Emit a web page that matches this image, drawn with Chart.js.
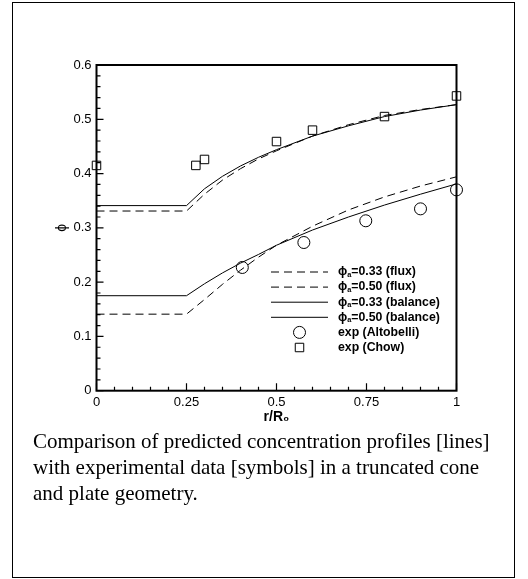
<!DOCTYPE html>
<html>
<head>
<meta charset="utf-8">
<script src="https://cdn.jsdelivr.net/npm/chart.js@4.4.1/dist/chart.umd.min.js"></script>
<style>
  html, body { margin: 0; padding: 0; background: #fff; }
  body { width: 528px; height: 579px; position: relative; overflow: hidden; }
  #frame { position: absolute; left: 12px; top: 2px; width: 503px; height: 576px;
           border: 1.5px solid #000; box-sizing: border-box; }
  #wrap { position: absolute; left: 0; top: 0; width: 528px; height: 430px; }
  #caption { position: absolute; left: 33px; top: 427.9px; color: #000; white-space: nowrap;
             font-family: "Liberation Serif", "Times New Roman", serif; font-size: 21px; line-height: 26px; }
</style>
</head>
<body>
<div id="frame"></div>
<div id="wrap"><canvas id="c"></canvas></div>
<div id="caption">Comparison of predicted concentration profiles [lines]<br>with experimental data [symbols] in a truncated cone<br>and plate geometry.</div>
<script>
// radial position r/R0 of the model profiles
const rModel   = [0, 0.25, 0.3, 0.35, 0.4, 0.45, 0.5, 0.6, 0.7, 0.8, 0.9, 1.0];
// predicted concentration, flux model
const flux033  = [0.141, 0.141, 0.168, 0.196, 0.222, 0.246, 0.268, 0.303, 0.333, 0.357, 0.377, 0.394];
const flux050  = [0.331, 0.331, 0.362, 0.388, 0.409, 0.427, 0.442, 0.469, 0.490, 0.507, 0.518, 0.527];
// predicted concentration, balance model
const bal033   = [0.175, 0.175, 0.197, 0.217, 0.235, 0.251, 0.268, 0.296, 0.320, 0.342, 0.362, 0.381];
const bal050   = [0.341, 0.341, 0.372, 0.395, 0.414, 0.430, 0.444, 0.469, 0.488, 0.505, 0.517, 0.527];
// experiments
const rAltobelli   = [0.405, 0.576, 0.748, 0.90, 1.0];
const phiAltobelli = [0.227, 0.273, 0.313, 0.335, 0.370];
const rChow   = [0, 0.276, 0.30, 0.50, 0.60, 0.80, 1.0];
const phiChow = [0.415, 0.415, 0.426, 0.459, 0.480, 0.505, 0.543];

const seriesLabels = ['ϕ_a=0.33 (flux)', 'ϕ_a=0.50 (flux)', 'ϕ_a=0.33 (balance)', 'ϕ_a=0.50 (balance)', 'exp (Altobelli)', 'exp (Chow)'];

// axis ticks
const xTicks = [0, 0.25, 0.5, 0.75, 1];
const xTickLabels = ['0', '0.25', '0.5', '0.75', '1'];
const yTicks = [0, 0.1, 0.2, 0.3, 0.4, 0.5, 0.6];
const yTickLabels = ['0', '0.1', '0.2', '0.3', '0.4', '0.5', '0.6'];
const xMinorPerMajor = 5;
const yMinorPerMajor = 5;

const pts = (xs, ys) => xs.map((x, i) => ({ x: x, y: ys[i] }));
const SANS = '"Liberation Sans", Arial, "DejaVu Sans", sans-serif';

const lineSet = (label, xs, ys, dash) => ({
  type: 'line', label: label, data: pts(xs, ys),
  borderColor: '#000', borderWidth: 1, borderDash: dash, pointRadius: 0,
  tension: 0, fill: false
});
const markSet = (label, xs, ys, style) => ({
  type: 'scatter', label: label, data: pts(xs, ys),
  pointStyle: style, pointRadius: 6, pointHoverRadius: 6,
  borderColor: '#000', borderWidth: 1, backgroundColor: 'rgba(0,0,0,0)', clip: false
});

// frame around the plot with inward ticks on the left and bottom axes
const axesFrame = {
  id: 'axesFrame',
  afterDraw(chart) {
    const { ctx, chartArea: a, scales: { x, y } } = chart;
    ctx.save();
    ctx.strokeStyle = '#000';
    ctx.lineWidth = 1.2;
    ctx.beginPath();
    for (let i = 0; i < yTicks.length; i++) {
      const py = y.getPixelForValue(yTicks[i]);
      ctx.moveTo(a.left, py); ctx.lineTo(a.left + 7, py);
      if (i < yTicks.length - 1) {
        for (let k = 1; k < yMinorPerMajor; k++) {
          const v = yTicks[i] + (yTicks[i + 1] - yTicks[i]) * k / yMinorPerMajor;
          const pm = y.getPixelForValue(v);
          ctx.moveTo(a.left, pm); ctx.lineTo(a.left + 4, pm);
        }
      }
    }
    for (let i = 0; i < xTicks.length; i++) {
      const px = x.getPixelForValue(xTicks[i]);
      ctx.moveTo(px, a.bottom); ctx.lineTo(px, a.bottom - 7.5);
      if (i < xTicks.length - 1) {
        for (let k = 1; k < xMinorPerMajor; k++) {
          const v = xTicks[i] + (xTicks[i + 1] - xTicks[i]) * k / xMinorPerMajor;
          const pm = x.getPixelForValue(v);
          ctx.moveTo(pm, a.bottom); ctx.lineTo(pm, a.bottom - 4);
        }
      }
    }
    ctx.stroke();
    ctx.lineWidth = 2;
    ctx.strokeRect(a.left, a.top, a.right - a.left, a.bottom - a.top);
    ctx.restore();
  }
};

// legend drawn inside the plot area
const insetLegend = {
  id: 'insetLegend',
  afterDatasetsDraw(chart) {
    const { ctx, chartArea: a } = chart;
    const x0 = a.left + 174.5, x1 = a.left + 231.5, tx = a.left + 241.5;
    const y0 = a.top + 207, dy = 15.1;
    const fs = 12.3;
    ctx.save();
    chart.data.datasets.forEach((ds, i) => {
      const yy = y0 + i * dy;
      ctx.strokeStyle = ds.borderColor;
      ctx.lineWidth = ds.borderWidth;
      ctx.fillStyle = 'rgba(0,0,0,0)';
      if (ds.type === 'line') {
        ctx.setLineDash(ds.borderDash || []);
        ctx.beginPath(); ctx.moveTo(x0, yy); ctx.lineTo(x1, yy); ctx.stroke();
        ctx.setLineDash([]);
      } else {
        Chart.helpers.drawPoint(ctx, { pointStyle: ds.pointStyle, radius: ds.pointRadius, borderWidth: ds.borderWidth, rotation: 0 }, (x0 + x1) / 2, yy);
      }
      // label text, "_x" marks a subscript character
      ctx.fillStyle = '#000';
      ctx.textBaseline = 'middle';
      ctx.textAlign = 'left';
      const label = ds.label;
      const u = label.indexOf('_');
      let cx = tx;
      ctx.font = 'bold ' + fs + 'px ' + SANS;
      if (u >= 0) {
        const head = label.slice(0, u), sub = label.charAt(u + 1), tail = label.slice(u + 2);
        ctx.fillText(head, cx, yy); cx += ctx.measureText(head).width;
        ctx.font = 'bold ' + (fs * 0.6) + 'px ' + SANS;
        ctx.fillText(sub, cx, yy + 3); cx += ctx.measureText(sub).width;
        ctx.font = 'bold ' + fs + 'px ' + SANS;
        ctx.fillText(tail, cx, yy);
      } else {
        ctx.fillText(label, cx, yy);
      }
    });
    ctx.restore();
  }
};

new Chart(document.getElementById('c'), {
  data: {
    datasets: [
      lineSet(seriesLabels[0], rModel, flux033, [8, 5]),
      lineSet(seriesLabels[1], rModel, flux050, [8, 5]),
      lineSet(seriesLabels[2], rModel, bal033, []),
      lineSet(seriesLabels[3], rModel, bal050, []),
      markSet(seriesLabels[4], rAltobelli, phiAltobelli, 'circle'),
      markSet(seriesLabels[5], rChow, phiChow, 'rect')
    ]
  },
  options: {
    responsive: true,
    maintainAspectRatio: false,
    animation: false,
    layout: { padding: { left: 0, top: 65, right: 71.5, bottom: 0 } },
    plugins: { legend: { display: false }, tooltip: { enabled: false } },
    scales: {
      x: {
        type: 'linear', min: 0, max: 1,
        grid: { display: false, drawTicks: false },
        border: { display: false },
        afterBuildTicks: s => { s.ticks = xTicks.map(v => ({ value: v })); },
        afterFit: s => { s.height = 39.3; },
        ticks: {
          padding: 4, color: '#000', maxRotation: 0, autoSkip: false,
          font: { family: SANS, size: 13 },
          callback: (v, i) => xTickLabels[i]
        },
        title: {
          display: true, text: 'r/R₀', color: '#000',
          font: { family: SANS, size: 14, weight: 'bold' },
          padding: { top: 0, bottom: 4.6 }
        }
      },
      y: {
        type: 'linear', min: 0, max: 0.6,
        grid: { display: false, drawTicks: false },
        border: { display: false },
        afterBuildTicks: s => { s.ticks = yTicks.map(v => ({ value: v })); },
        afterFit: s => { s.width = 96.5; },
        ticks: {
          padding: 5, color: '#000', autoSkip: false,
          font: { family: SANS, size: 13 },
          callback: (v, i) => yTickLabels[i]
        },
        title: {
          display: true, text: 'ϕ', color: '#000',
          font: { family: SANS, size: 14 },
          padding: { top: 53.6, bottom: 0 }
        }
      }
    }
  },
  plugins: [axesFrame, insetLegend]
});
</script>
</body>
</html>
